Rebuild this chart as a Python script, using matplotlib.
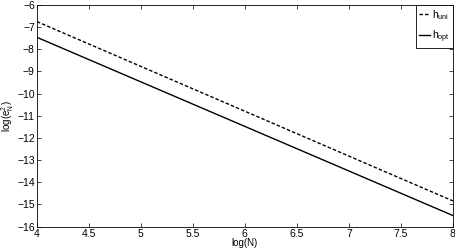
import numpy as np
import matplotlib
matplotlib.use('Agg')
import matplotlib.pyplot as plt

plt.rcParams['font.family'] = ['Liberation Sans', 'DejaVu Sans']
plt.rcParams['mathtext.default'] = 'regular'
plt.rcParams['font.size'] = 7.5

logN = [4, 8]
h_uni = [-6.75, -14.84]
h_opt = [-7.46, -15.5]

fig = plt.figure(figsize=(4.56, 2.49), dpi=100)
ax = fig.add_axes([0.081, 0.09, 0.912, 0.89])

ax.plot(logN, h_uni, 'k--', dashes=(2.5, 1.5), lw=1.0, label=r'h$_{uni}$')
ax.plot(logN, h_opt, 'k-', lw=1.0, label=r'h$_{opt}$')

ax.set_xlim(4, 8)
ax.set_ylim(-16, -6)
ax.set_xticks(np.arange(4, 8.01, 0.5))
ax.set_xticklabels(['4', '4.5', '5', '5.5', '6', '6.5', '7', '7.5', '8'])
ax.set_yticks(range(-16, -5))
ax.tick_params(direction='in', top=True, right=True, length=3, width=0.5, pad=1.5)
for s in ax.spines.values():
    s.set_linewidth(0.6)
ax.set_xlabel('log(N)', fontsize=7)
ax.xaxis.set_label_coords(0.5, -0.052)
ax.set_ylabel(r'log(e$^2_N$)', fontsize=7)
ax.yaxis.set_label_coords(-0.05, 0.5)

leg = ax.legend(loc='upper right', handlelength=1.0, handletextpad=0.2,
                borderpad=0.3, borderaxespad=0.0, labelspacing=0.6,
                fancybox=False, framealpha=1)
leg.get_frame().set_edgecolor('k')
leg.get_frame().set_linewidth(0.6)

fig.savefig('out.png', dpi=100)
